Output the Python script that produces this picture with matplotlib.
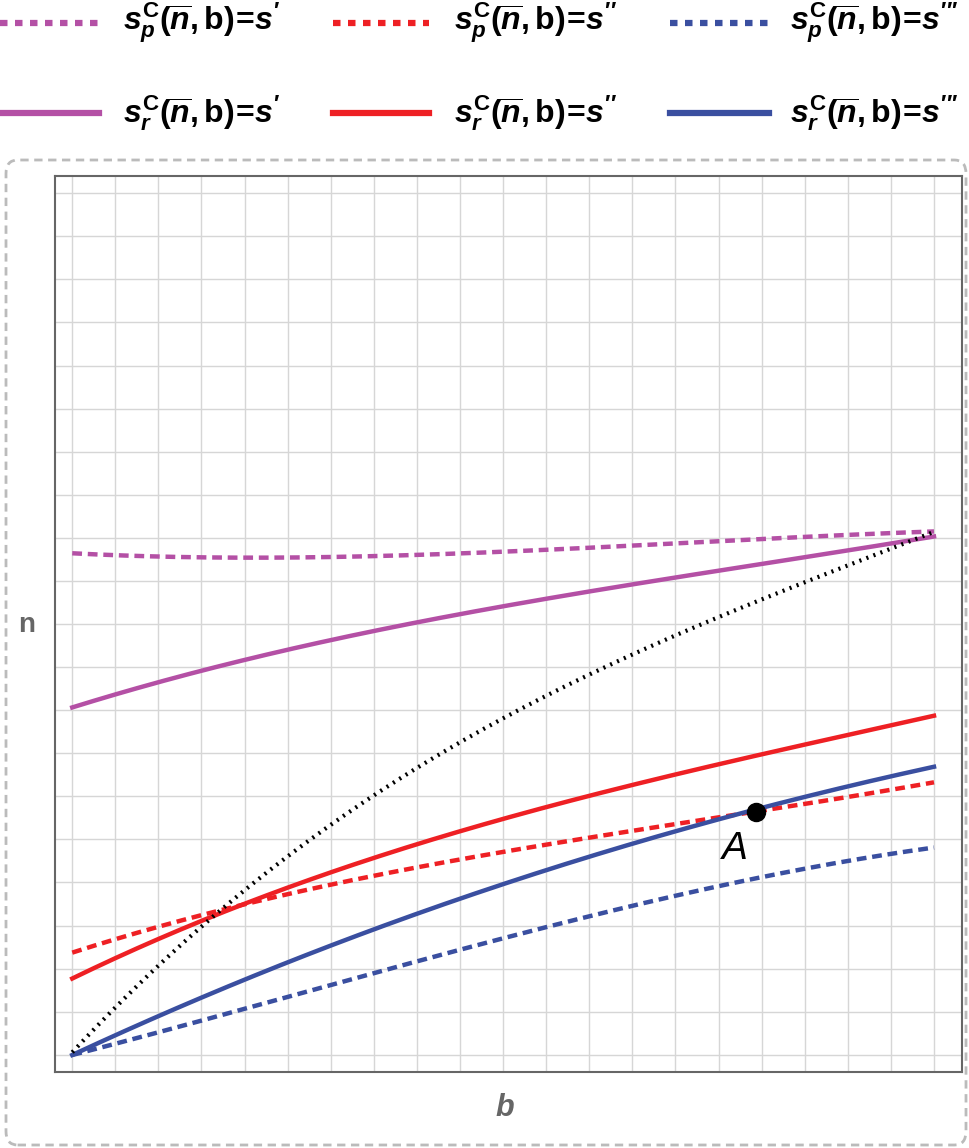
import numpy as np
import matplotlib
matplotlib.use("Agg")
import matplotlib.pyplot as plt
from matplotlib.lines import Line2D
from matplotlib.patches import FancyBboxPatch

plt.rcParams['mathtext.fontset'] = 'custom'
plt.rcParams['mathtext.rm'] = 'Liberation Sans:bold'
plt.rcParams['mathtext.it'] = 'Liberation Sans:bold:italic'
plt.rcParams['mathtext.bf'] = 'Liberation Sans:bold'

b = [0, 3.3, 8.9, 12.25, 15.7, 20]
sp1 = [11.64, 11.55, 11.62, 11.8, 11.95, 12.15]
sr1 = [8.06, 9.0, 10.2, 10.8, 11.35, 12.03]
sp2 = [2.37, 3.32, 4.53, 5.05, 5.64, 6.32]
sr2 = [1.74, 3.3, 5.1, 6.05, 6.97, 7.85]
sp3 = [0.0, 0.86, 2.44, 3.25, 4.07, 4.81]
sr3 = [0.0, 1.44, 3.6, 4.68, 5.64, 6.69]
dot_b = [0, 3.3, 8.9, 12.25, 15.7, 20]
dot_n = [0.0, 3.37, 7.08, 8.9, 10.57, 12.1]
A_b, A_n = 15.87, 5.64

MAG, RED, BLU = '#B450A5', '#EE2024', '#3A4FA0'

def smooth(x, y):
    xs = np.linspace(x[0], x[-1], 200)
    c = np.polyfit(x, y, 3)
    return xs, np.polyval(c, xs)

fig = plt.figure(figsize=(9.69, 11.48), dpi=100)
ax = fig.add_axes([55/969, 1-1072/1148, 907/969, 896/1148])

ds = (2.2, 1.3)
for xv, yv, c in [(b, sp1, MAG), (b, sp2, RED), (b, sp3, BLU)]:
    xs, ys = smooth(xv, yv)
    ax.plot(xs, ys, color=c, lw=3.2, dashes=ds, zorder=3)
for xv, yv, c in [(b, sr1, MAG), (b, sr2, RED), (b, sr3, BLU)]:
    xs, ys = smooth(xv, yv)
    ax.plot(xs, ys, color=c, lw=3.2, zorder=3)
xs, ys = smooth(dot_b, dot_n)
ax.plot(xs, ys, color='black', lw=3, linestyle=(0, (0.5, 1.3)), zorder=3)
ax.plot([A_b], [A_n], 'o', color='black', ms=13, zorder=5)
ax.text(A_b - 0.5, A_n - 0.45, 'A', fontsize=28, style='italic', family='Liberation Sans',
        ha='center', va='top', zorder=5)

ax.set_xlim(-0.4, 20.65)
ax.set_ylim(-0.4, 20.4)
ax.set_xticks(np.arange(0, 21, 1))
ax.set_yticks(np.arange(0, 21, 1))
ax.tick_params(length=0, labelbottom=False, labelleft=False)
ax.grid(True, color='#d6d6d6', lw=1)
ax.set_axisbelow(True)
for s in ax.spines.values():
    s.set_color('#666666'); s.set_linewidth(1.5)

fig.text(27/969, 1-625/1148, 'n', fontsize=20, fontweight='bold', color='#666666',
         family='Liberation Sans', ha='center', va='center')
fig.text(505/969, 1-1108/1148, 'b', fontsize=22, fontweight='bold', style='italic',
         color='#666666', family='Liberation Sans', ha='center', va='center')

box = FancyBboxPatch((6/969, 1-1145/1148), 960/969, 985/1148,
                     boxstyle='round,pad=0,rounding_size=0.012', transform=fig.transFigure,
                     fill=False, ec='#bbbbbb', lw=2, linestyle=(0, (3, 2)))
fig.add_artist(box)

primes = ["s'", "s''", "s'''"]
cols = [MAG, RED, BLU]
hx = [(0, 99), (333, 429), (670, 769)]
tx = [123, 454, 790]
for row, (sub, yy, dashed) in enumerate([('p', 23, True), ('r', 113, False)]):
    for i in range(3):
        yf = 1 - yy/1148
        kw = dict(color=cols[i], lw=4.5, transform=fig.transFigure)
        if dashed:
            kw['dashes'] = (1.2, 1.2)
        fig.add_artist(Line2D([hx[i][0]/969, hx[i][1]/969], [yf, yf], **kw))
        lab = r"$\mathit{s}_{\mathit{%s}}^{\mathrm{C}}(\overline{\mathit{n}},\mathrm{b})\!=\!\mathit{%s}$" % (sub, primes[i])
        fig.text(tx[i]/969, yf, lab, fontsize=23, ha='left', va='center')

fig.savefig('out.png', dpi=100)
